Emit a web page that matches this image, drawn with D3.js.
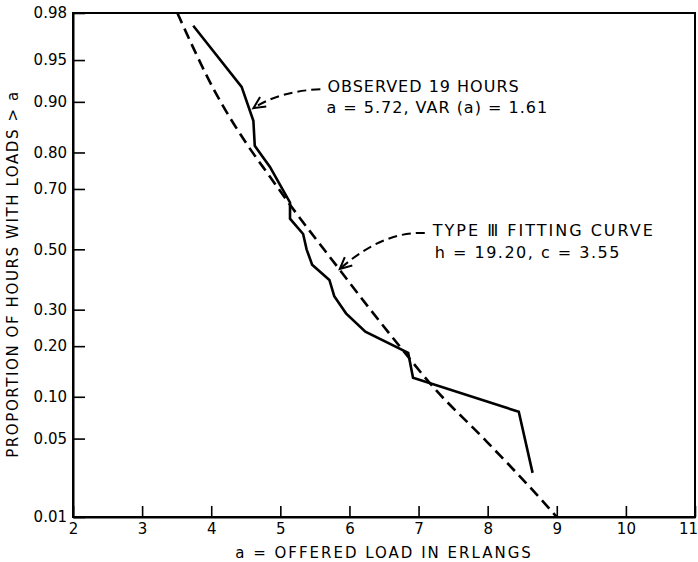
<!DOCTYPE html>
<html>
<head>
<meta charset="utf-8">
<script src="https://cdn.jsdelivr.net/npm/d3@7"></script>
<style>
  html, body { margin: 0; padding: 0; background: #fff; }
  svg { display: block; font-family: "DejaVu Sans", sans-serif; }
</style>
</head>
<body>
<svg id="chart" width="698" height="562"></svg>
<script>
// Axis ticks
const loadTicks = [2, 3, 4, 5, 6, 7, 8, 9, 10, 11];
const propTicks = [0.01, 0.05, 0.10, 0.20, 0.30, 0.50, 0.70, 0.80, 0.90, 0.95, 0.98];
const propTickLabels = ["0.01", "0.05", "0.10", "0.20", "0.30", "0.50", "0.70", "0.80", "0.90", "0.95", "0.98"];

// Observed 19 hours: offered load (erlangs) and proportion of hours exceeding it
const observedLoad = [3.74, 4.44, 4.61, 4.63, 4.85, 5.00, 5.14, 5.14, 5.33, 5.38, 5.46, 5.71, 5.78, 5.95, 6.23, 6.85, 6.92, 8.45, 8.65];
const observedProp = [0.974, 0.921, 0.868, 0.816, 0.763, 0.711, 0.658, 0.605, 0.553, 0.500, 0.447, 0.395, 0.342, 0.289, 0.237, 0.184, 0.132, 0.079, 0.026];

// Type III fitting curve
const fitLoad = [3.51, 4.07, 4.51, 4.85, 5.09, 5.86, 6.27, 6.73, 7.21, 7.96, 8.78, 9.00];
const fitProp = [0.980, 0.912, 0.821, 0.736, 0.666, 0.429, 0.309, 0.199, 0.116, 0.049, 0.0147, 0.010];

// Annotation arrow tips (load, proportion)
const observedArrowTip = [4.61, 0.890];
const fitArrowTip = [5.86, 0.432];

// Inverse of the standard normal CDF (Acklam's rational approximation)
function probit(p) {
  const a = [-3.969683028665376e+01, 2.209460984245205e+02, -2.759285104469687e+02, 1.383577518672690e+02, -3.066479806614716e+01, 2.506628277459239e+00];
  const b = [-5.447609879822406e+01, 1.615858368580409e+02, -1.556989798598866e+02, 6.680131188771972e+01, -1.328068155288572e+01];
  const c = [-7.784894002430293e-03, -3.223964580411365e-01, -2.400758277161838e+00, -2.549732539343734e+00, 4.374664141464968e+00, 2.938163982698783e+00];
  const d = [7.784695709041462e-03, 3.224671290700398e-01, 2.445134137142996e+00, 3.754408661907416e+00];
  const pl = 0.02425, ph = 1 - pl;
  let q, r;
  if (p < pl) {
    q = Math.sqrt(-2 * Math.log(p));
    return (((((c[0]*q+c[1])*q+c[2])*q+c[3])*q+c[4])*q+c[5]) / ((((d[0]*q+d[1])*q+d[2])*q+d[3])*q+1);
  }
  if (p <= ph) {
    q = p - 0.5; r = q * q;
    return (((((a[0]*r+a[1])*r+a[2])*r+a[3])*r+a[4])*r+a[5])*q / (((((b[0]*r+b[1])*r+b[2])*r+b[3])*r+b[4])*r+1);
  }
  q = Math.sqrt(-2 * Math.log(1 - p));
  return -(((((c[0]*q+c[1])*q+c[2])*q+c[3])*q+c[4])*q+c[5]) / ((((d[0]*q+d[1])*q+d[2])*q+d[3])*q+1);
}

const svg = d3.select("#chart");
const plot = { left: 73, right: 695, top: 13, bottom: 517 };

const x = d3.scaleLinear().domain([2, 11]).range([plot.left, plot.right]);

// Normal-probability scale for the proportion axis
const zScale = d3.scaleLinear().domain([probit(0.01), probit(0.98)]).range([plot.bottom, plot.top]);
const y = p => zScale(probit(p));
y.domain = () => [0.01, 0.98];
y.range = () => zScale.range();
y.copy = () => y;

// Frame
svg.append("rect")
  .attr("x", plot.left).attr("y", plot.top)
  .attr("width", plot.right - plot.left).attr("height", plot.bottom - plot.top)
  .attr("fill", "none").attr("stroke", "#000").attr("stroke-width", 2);

// Axes with inward ticks
const xAxis = svg.append("g")
  .attr("transform", `translate(0,${plot.bottom})`)
  .call(d3.axisBottom(x).tickValues(loadTicks).tickSizeInner(-11).tickSizeOuter(0).tickPadding(6).tickFormat(d3.format("d")));

const yAxis = svg.append("g")
  .attr("transform", `translate(${plot.left},0)`)
  .call(d3.axisLeft(y).tickValues(propTicks).tickSizeInner(-12).tickSizeOuter(0).tickPadding(6)
    .tickFormat((d, i) => propTickLabels[i]));

[xAxis, yAxis].forEach(g => {
  g.attr("font-family", "DejaVu Sans, sans-serif").attr("font-size", 15);
  g.select(".domain").attr("stroke", "#000").attr("stroke-width", 2);
  g.selectAll(".tick line").attr("stroke", "#000").attr("stroke-width", 1.6);
  g.selectAll(".tick text").attr("fill", "#000");
});
// keep the last load label inside the page edge
xAxis.selectAll(".tick text").filter(d => d === 11).attr("dx", -7);

// Type III fitting curve (dashed)
const fitLine = d3.line()
  .x(i => x(fitLoad[i]))
  .y(i => y(fitProp[i]))
  .curve(d3.curveMonotoneX);
svg.append("path")
  .attr("d", fitLine(d3.range(fitLoad.length)))
  .attr("fill", "none").attr("stroke", "#000")
  .attr("stroke-width", 2.6).attr("stroke-dasharray", "11,6");

// Observed distribution (solid)
const obsLine = d3.line()
  .x(i => x(observedLoad[i]))
  .y(i => y(observedProp[i]));
svg.append("path")
  .attr("d", obsLine(d3.range(observedLoad.length)))
  .attr("fill", "none").attr("stroke", "#000")
  .attr("stroke-width", 2.6).attr("stroke-linejoin", "miter");

// Curved dashed leader with an open arrowhead
function leader(tip, dStart, dCtrl) {
  const tx = x(tip[0]), ty = y(tip[1]);
  const sx = tx + dStart[0], sy = ty + dStart[1];
  const cx = tx + dCtrl[0], cy = ty + dCtrl[1];
  const p = d3.path();
  p.moveTo(sx, sy);
  p.quadraticCurveTo(cx, cy, tx, ty);
  svg.append("path").attr("d", p.toString())
    .attr("fill", "none").attr("stroke", "#000")
    .attr("stroke-width", 2).attr("stroke-dasharray", "9,5");
  const ang = Math.atan2(cy - ty, cx - tx);
  const len = 13, spread = 0.45;
  const h = d3.path();
  h.moveTo(tx + len * Math.cos(ang - spread), ty + len * Math.sin(ang - spread));
  h.lineTo(tx, ty);
  h.lineTo(tx + len * Math.cos(ang + spread), ty + len * Math.sin(ang + spread));
  svg.append("path").attr("d", h.toString())
    .attr("fill", "none").attr("stroke", "#000").attr("stroke-width", 2);
  return [tx, ty];
}

const annoStyle = (sel, spacing) => sel.attr("font-size", 16).attr("letter-spacing", spacing).attr("fill", "#000");

const t1 = leader(observedArrowTip, [67, -19], [26, -17]);
annoStyle(svg.append("text").attr("x", t1[0] + 74).attr("y", t1[1] - 16), 1).text("OBSERVED 19 HOURS");
annoStyle(svg.append("text").attr("x", t1[0] + 73).attr("y", t1[1] + 5), 1).text("a = 5.72, VAR (a) = 1.61");

const t2 = leader(fitArrowTip, [85, -36], [43, -38]);
annoStyle(svg.append("text").attr("x", t2[0] + 93).attr("y", t2[1] - 33), 2).text("TYPE Ⅲ FITTING CURVE");
annoStyle(svg.append("text").attr("x", t2[0] + 95).attr("y", t2[1] - 11), 1.5).text("h = 19.20, c = 3.55");

// Axis titles
svg.append("text")
  .attr("x", (plot.left + plot.right) / 2).attr("y", 558)
  .attr("text-anchor", "middle").attr("font-size", 15).attr("letter-spacing", 2)
  .attr("fill", "#000")
  .text("a = OFFERED LOAD IN ERLANGS");

svg.append("text")
  .attr("transform", "translate(18,274) rotate(-90)")
  .attr("text-anchor", "middle").attr("font-size", 15).attr("letter-spacing", 1.6)
  .attr("fill", "#000")
  .text("PROPORTION OF HOURS WITH LOADS > a");
</script>
</body>
</html>
